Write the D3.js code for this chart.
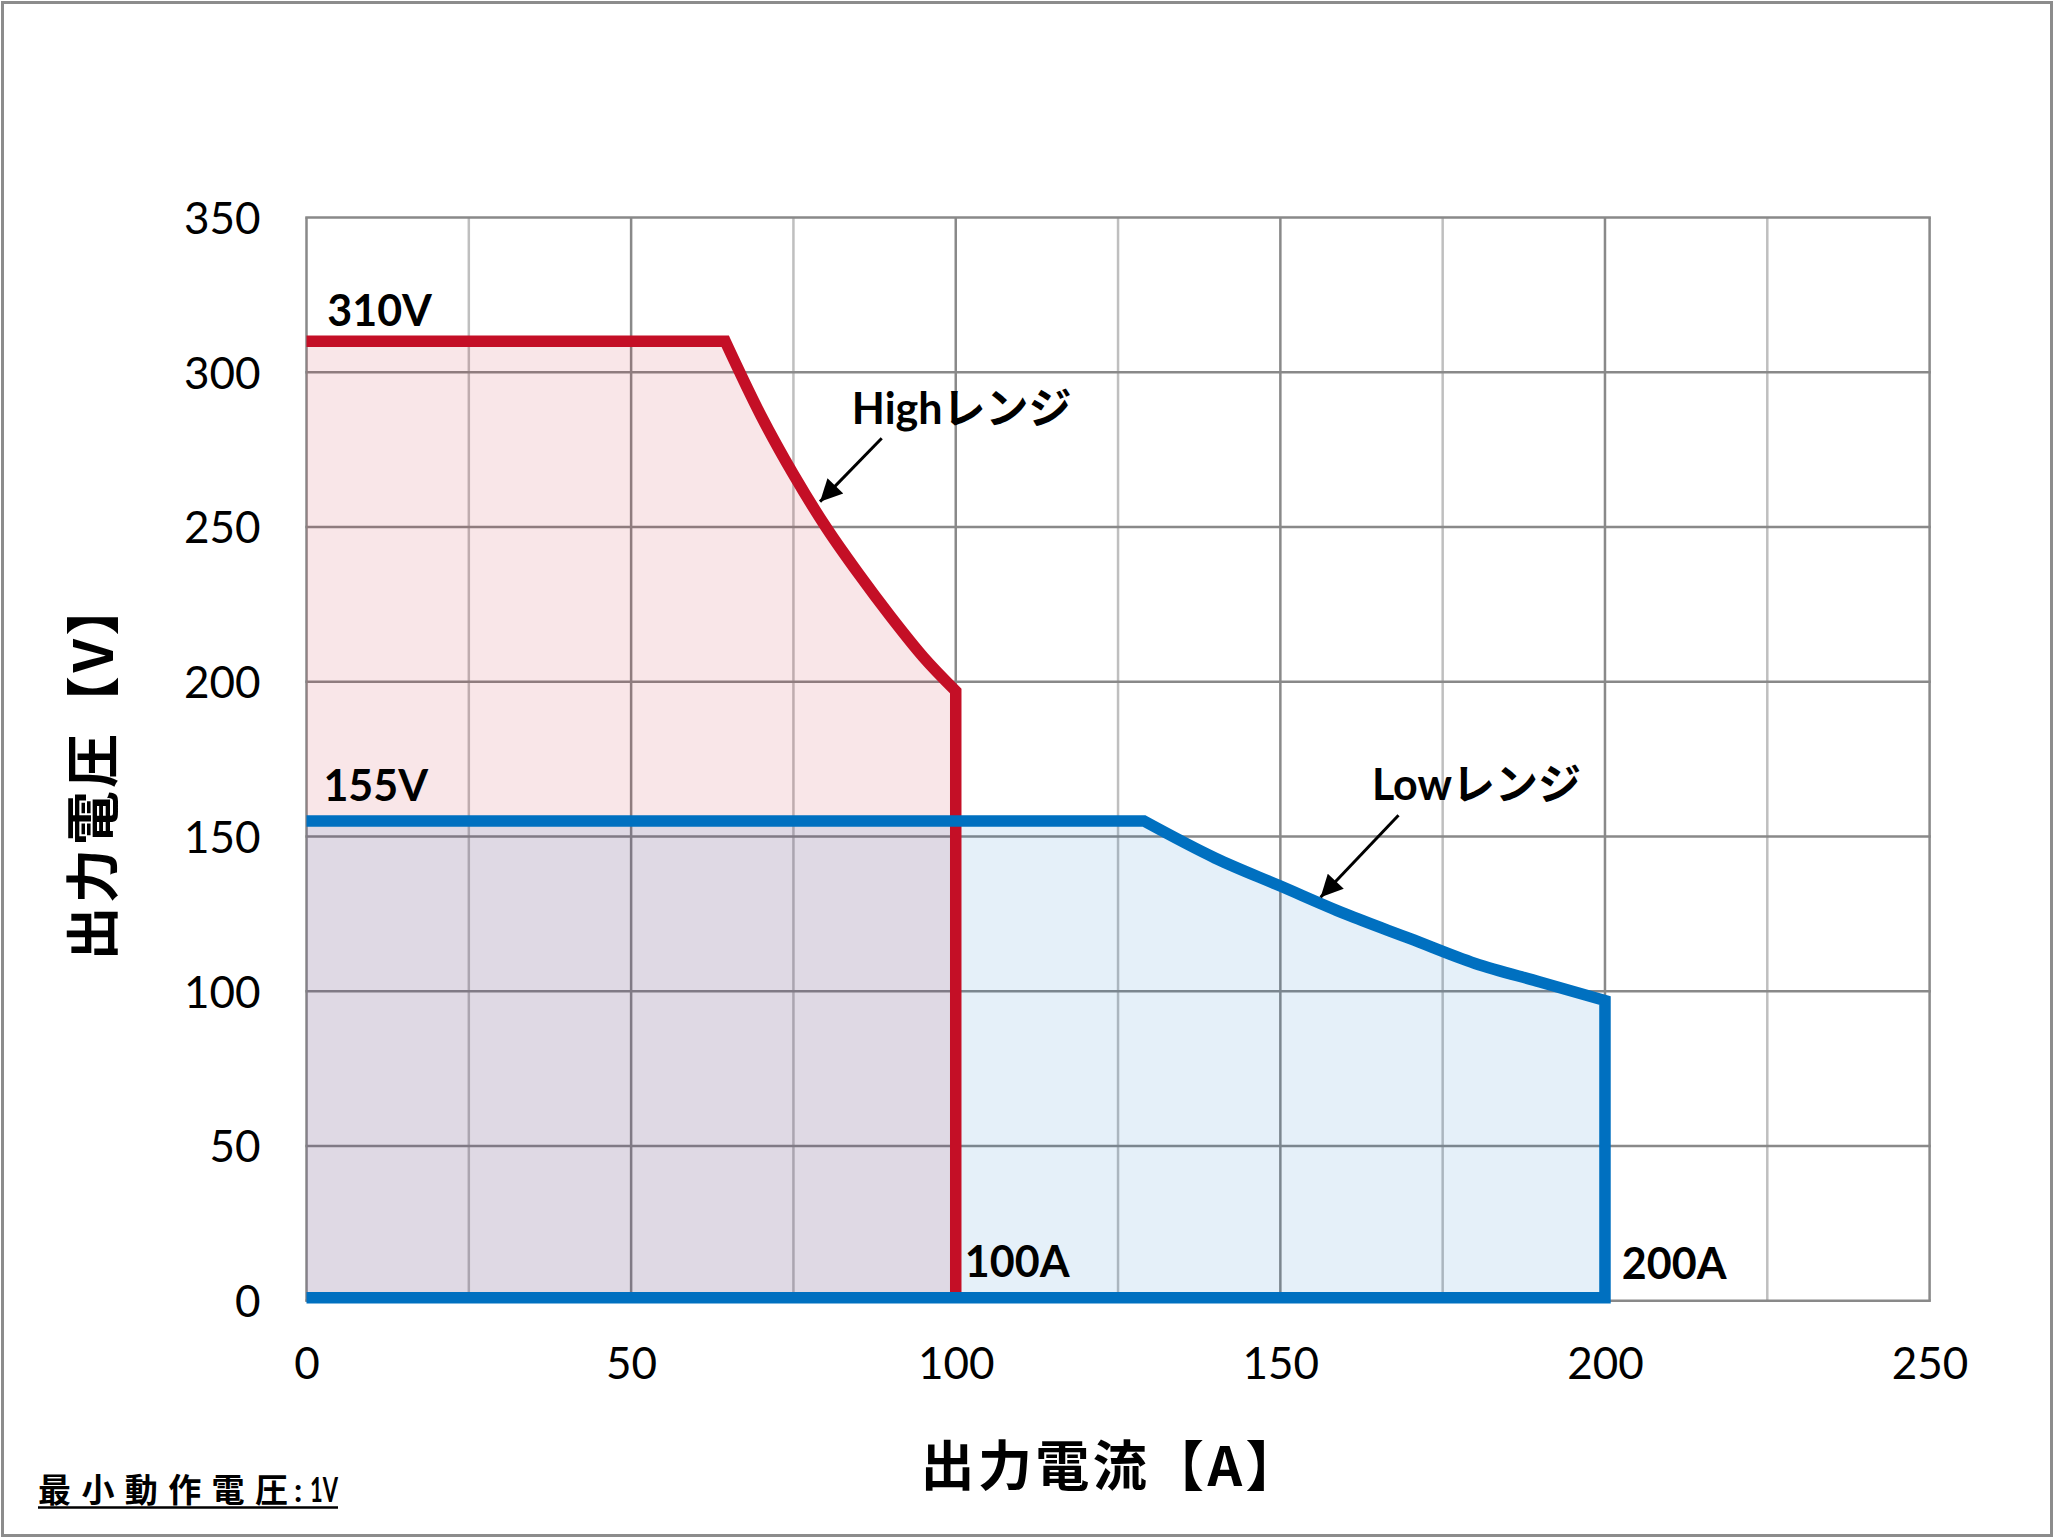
<!DOCTYPE html>
<html><head><meta charset="utf-8">
<script src="https://cdn.jsdelivr.net/npm/d3@7"></script>
<style>body{margin:0;background:#fff} svg{display:block}</style>
</head><body>
<script>
// ---- data ----
const xTicks = [0, 50, 100, 150, 200, 250];
const xMinorGrid = [25, 75, 125, 175, 225];
const yTicks = [0, 50, 100, 150, 200, 250, 300, 350];
const highCurrent = [0, 64.5, 70, 75, 80, 85, 90, 95, 100, 100];
const highVoltage = [310, 310, 286, 267, 250, 235, 221, 208, 197, 1];
const lowCurrent = [0, 129, 140, 150, 160, 170, 180, 190, 200, 200, 0];
const lowVoltage = [155, 155, 143, 134, 125, 117, 109, 103, 97, 1, 1];
const labelTexts = ["310V", "155V", "100A", "200A"];
const labelX = [3.2, 2.6, 101.4, 202.6];
const labelY = [315, 161.5, 7.8, 7.0];
const rangeNames = ["Highレンジ", "Lowレンジ"];
const rangeLabelX = [84.0, 164.1];
const rangeLabelY = [283.3, 161.8];
const arrowFromX = [88.6, 168.2], arrowFromY = [278.7, 156.9];
const arrowToX = [79.1, 156.2], arrowToY = [258.2, 130.4];
const xTitle = "出力電流【A】";
const yTitle = "出力電圧【V】";
const noteCjk = "最小動作電圧";
const noteColon = ":";
const noteValue = "1V";

// ---- layout ----
const W = 2054, H = 1538;
const plot = {left: 306.5, right: 1929.6, top: 217.5, bottom: 1300.8};
const RED = "#c40f26", BLUE = "#0070c0";
const latin = "Lato, 'Noto Sans CJK JP', sans-serif";
const cjk = "'Noto Sans CJK JP', sans-serif";

const svg = d3.select("body").append("svg").attr("width", W).attr("height", H);
svg.append("rect").attr("x", 0).attr("y", 0).attr("width", W).attr("height", H).attr("fill", "#fff");
svg.append("rect").attr("x", 2.5).attr("y", 2.5).attr("width", W - 5).attr("height", H - 5)
  .attr("fill", "none").attr("stroke", "#8c8c8c").attr("stroke-width", 3);

const x = d3.scaleLinear().domain([0, 250]).range([plot.left, plot.right]);
const y = d3.scaleLinear().domain([0, 350]).range([plot.bottom, plot.top]);

// gridlines
const g = svg.append("g");
g.selectAll(".vminor").data(xMinorGrid).join("line")
  .attr("x1", d => x(d)).attr("x2", d => x(d)).attr("y1", y(0)).attr("y2", y(350))
  .attr("stroke", "#bfbfbf").attr("stroke-width", 2.5);
g.selectAll(".vmajor").data(xTicks).join("line")
  .attr("x1", d => x(d)).attr("x2", d => x(d)).attr("y1", y(0)).attr("y2", y(350))
  .attr("stroke", "#898989").attr("stroke-width", 2.5);
g.selectAll(".hmajor").data(yTicks).join("line")
  .attr("x1", x(0) - 1.25).attr("x2", x(250) + 1.25).attr("y1", d => y(d)).attr("y2", d => y(d))
  .attr("stroke", "#898989").attr("stroke-width", 2.5);

// axes (labels only)
const xAxis = svg.append("g").attr("transform", `translate(0,${plot.bottom})`)
  .call(d3.axisBottom(x).tickValues(xTicks).tickSize(0).tickPadding(0).tickFormat(d3.format("d")));
xAxis.select(".domain").remove();
xAxis.selectAll("text").attr("font-family", latin).attr("font-size", 44).attr("fill", "#000")
  .attr("dy", null).attr("y", 78);
const yAxis = svg.append("g").attr("transform", `translate(${plot.left},0)`)
  .call(d3.axisLeft(y).tickValues(yTicks).tickSize(0).tickPadding(0).tickFormat(d3.format("d")));
yAxis.select(".domain").remove();
yAxis.selectAll("text").attr("font-family", latin).attr("font-size", 44).attr("fill", "#000")
  .attr("x", -46).attr("dy", "0.36em");

// series paths: straight flat part, smooth constant-power part, straight tail
const highPts = highCurrent.map((c, i) => [c, highVoltage[i]]);
const lowPts = lowCurrent.map((c, i) => [c, lowVoltage[i]]);
const lin = d3.line().x(d => x(d[0])).y(d => y(d[1]));
const mono = d3.line().x(d => x(d[0])).y(d => y(d[1])).curve(d3.curveMonotoneX);
function topPath(pts) {
  return lin(pts.slice(0, 2)) + mono(pts.slice(1, 9)).replace(/^M/, "L");
}
function tailPath(pts) {
  return pts.slice(9).map(p => `L${x(p[0])},${y(p[1])}`).join("");
}
function areaPath(pts) {
  return topPath(pts) + `L${x(pts[8][0])},${y(0)}L${x(pts[0][0])},${y(0)}Z`;
}
svg.append("path").attr("d", areaPath(highPts)).attr("fill", RED).attr("fill-opacity", 0.105);
svg.append("path").attr("d", areaPath(lowPts)).attr("fill", BLUE).attr("fill-opacity", 0.1);
svg.append("path").attr("d", topPath(highPts) + tailPath(highPts)).attr("fill", "none")
  .attr("stroke", RED).attr("stroke-width", 11.5).attr("stroke-linejoin", "miter").attr("stroke-linecap", "butt");
svg.append("path").attr("d", topPath(lowPts) + tailPath(lowPts)).attr("fill", "none")
  .attr("stroke", BLUE).attr("stroke-width", 11.5).attr("stroke-linejoin", "miter").attr("stroke-linecap", "butt");

// value labels
svg.selectAll(".vlab").data(labelTexts).join("text")
  .attr("x", (d, i) => x(labelX[i])).attr("y", (d, i) => y(labelY[i]))
  .attr("font-family", latin).attr("font-weight", 700).attr("font-size", 43).attr("fill", "#000")
  .text(d => d);

// range labels + arrows
svg.append("defs").append("marker").attr("id", "ah").attr("viewBox", "0 0 10 10")
  .attr("refX", 10).attr("refY", 5).attr("markerUnits", "userSpaceOnUse")
  .attr("markerWidth", 26).attr("markerHeight", 22).attr("orient", "auto")
  .append("path").attr("d", "M0,0 L10,5 L0,10 Z").attr("fill", "#000");
svg.selectAll(".arr").data(rangeNames).join("line")
  .attr("x1", (d, i) => x(arrowFromX[i])).attr("y1", (d, i) => y(arrowFromY[i]))
  .attr("x2", (d, i) => x(arrowToX[i])).attr("y2", (d, i) => y(arrowToY[i]))
  .attr("stroke", "#000").attr("stroke-width", 3).attr("marker-end", "url(#ah)");
svg.selectAll(".rlab").data(rangeNames).join("text")
  .attr("x", (d, i) => x(rangeLabelX[i])).attr("y", (d, i) => y(rangeLabelY[i]))
  .attr("font-family", latin).attr("font-weight", 700).attr("font-size", 43).attr("fill", "#000")
  .text(d => d);

// axis titles
svg.append("text").attr("x", 1110).attr("y", 1486).attr("text-anchor", "middle")
  .attr("font-family", cjk).attr("font-weight", 700).attr("font-size", 54).attr("fill", "#000")
  .attr("textLength", 379).attr("lengthAdjust", "spacing").text(xTitle);
svg.append("text").attr("transform", "translate(113,771) rotate(-90)").attr("text-anchor", "middle")
  .attr("font-family", cjk).attr("font-weight", 700).attr("font-size", 54).attr("fill", "#000")
  .attr("textLength", 379).attr("lengthAdjust", "spacing").text(yTitle);

// note (single text element)
const note = svg.append("text").attr("y", 1502).attr("font-weight", 700).attr("fill", "#000");
note.append("tspan").attr("x", 38).attr("font-family", cjk).attr("font-size", 33)
  .attr("textLength", 250).attr("lengthAdjust", "spacing").text(noteCjk);
note.append("tspan").attr("x", 294).attr("font-family", latin).attr("font-size", 32).text(noteColon);
note.append("tspan").attr("x", 310).attr("font-family", latin).attr("font-size", 34)
  .attr("textLength", 28).attr("lengthAdjust", "spacingAndGlyphs").text(noteValue);
svg.append("line").attr("x1", 38).attr("x2", 338).attr("y1", 1507.5).attr("y2", 1507.5)
  .attr("stroke", "#000").attr("stroke-width", 2.5);
</script>
</body></html>
